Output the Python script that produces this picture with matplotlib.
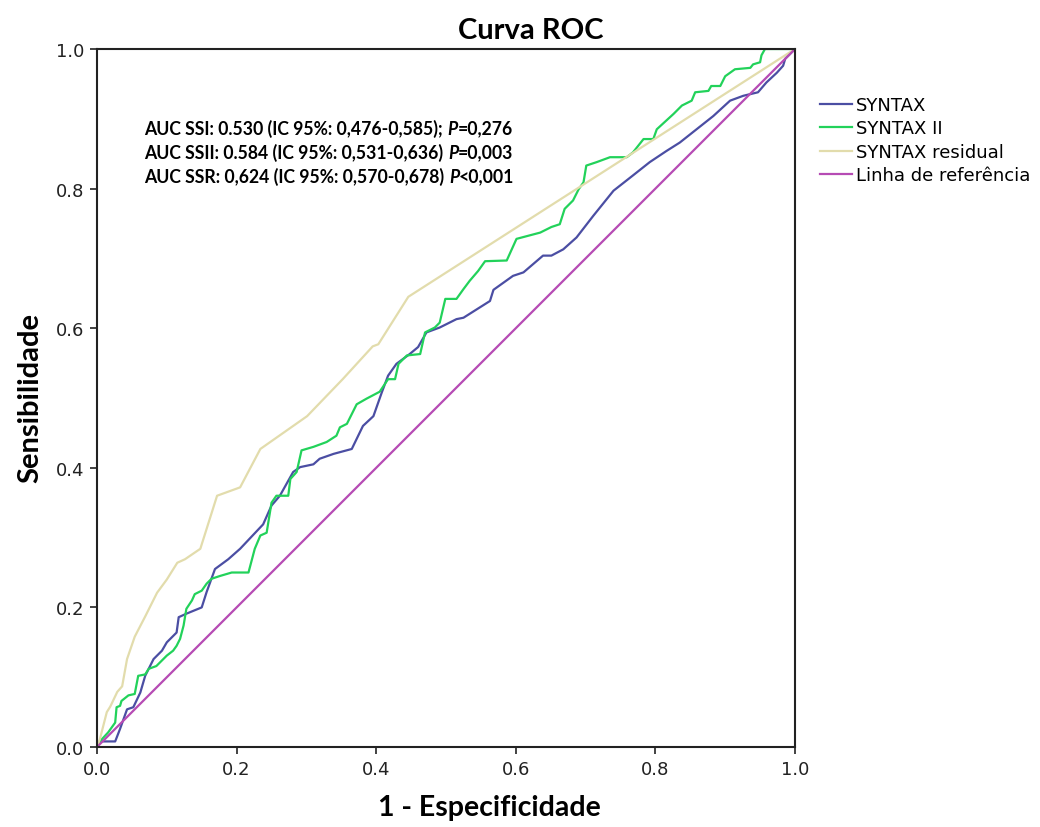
import matplotlib.pyplot as plt

# ROC points (1 - especificidade, sensibilidade)
ssi_x = [0.0, 0.004, 0.026, 0.033, 0.043, 0.052, 0.062, 0.069, 0.081, 0.093, 0.100, 0.114,
         0.117, 0.128, 0.150, 0.157, 0.169, 0.188, 0.205, 0.238, 0.250, 0.262, 0.281, 0.291,
         0.310, 0.319, 0.339, 0.365, 0.381, 0.396, 0.408, 0.417, 0.429, 0.448, 0.460, 0.472,
         0.491, 0.515, 0.525, 0.544, 0.563, 0.568, 0.596, 0.611, 0.639, 0.651, 0.668, 0.687,
         0.711, 0.740, 0.768, 0.792, 0.816, 0.835, 0.859, 0.883, 0.907, 0.926, 0.947, 0.959,
         0.974, 0.983, 0.986, 1.0]
ssi_y = [0.0, 0.008, 0.008, 0.026, 0.054, 0.057, 0.078, 0.102, 0.126, 0.138, 0.150, 0.164,
         0.186, 0.191, 0.200, 0.222, 0.255, 0.269, 0.284, 0.319, 0.346, 0.360, 0.394, 0.401,
         0.405, 0.413, 0.420, 0.427, 0.460, 0.474, 0.508, 0.532, 0.549, 0.563, 0.573, 0.594,
         0.601, 0.613, 0.615, 0.627, 0.639, 0.655, 0.675, 0.680, 0.704, 0.704, 0.713, 0.730,
         0.761, 0.797, 0.819, 0.838, 0.854, 0.866, 0.885, 0.904, 0.926, 0.933, 0.938, 0.952,
         0.966, 0.976, 0.986, 1.0]

ssii_x = [0.0, 0.004, 0.016, 0.026, 0.028, 0.033, 0.035, 0.045, 0.054, 0.059, 0.069, 0.074,
          0.085, 0.095, 0.100, 0.109, 0.114, 0.119, 0.124, 0.128, 0.136, 0.140, 0.150, 0.157,
          0.164, 0.176, 0.193, 0.217, 0.226, 0.234, 0.243, 0.250, 0.257, 0.274, 0.277, 0.286,
          0.293, 0.310, 0.329, 0.343, 0.348, 0.358, 0.372, 0.386, 0.405, 0.417, 0.427, 0.432,
          0.444, 0.463, 0.470, 0.484, 0.491, 0.499, 0.515, 0.525, 0.534, 0.546, 0.556, 0.587,
          0.601, 0.635, 0.651, 0.663, 0.670, 0.682, 0.690, 0.697, 0.701, 0.716, 0.735, 0.759,
          0.768, 0.783, 0.797, 0.802, 0.826, 0.838, 0.852, 0.857, 0.876, 0.880, 0.893, 0.900,
          0.914, 0.936, 0.940, 0.950, 0.952, 0.957, 1.0]
ssii_y = [0.0, 0.008, 0.021, 0.035, 0.057, 0.059, 0.066, 0.074, 0.076, 0.102, 0.104, 0.112,
          0.116, 0.126, 0.131, 0.138, 0.145, 0.155, 0.174, 0.198, 0.210, 0.219, 0.224, 0.234,
          0.241, 0.245, 0.250, 0.250, 0.284, 0.303, 0.307, 0.350, 0.360, 0.360, 0.384, 0.394,
          0.425, 0.430, 0.437, 0.446, 0.458, 0.463, 0.491, 0.499, 0.509, 0.527, 0.527, 0.549,
          0.561, 0.563, 0.594, 0.601, 0.608, 0.642, 0.642, 0.656, 0.668, 0.682, 0.696, 0.697,
          0.728, 0.737, 0.745, 0.749, 0.771, 0.783, 0.799, 0.809, 0.833, 0.838, 0.845, 0.845,
          0.852, 0.871, 0.871, 0.885, 0.907, 0.919, 0.926, 0.938, 0.940, 0.947, 0.947, 0.961,
          0.971, 0.973, 0.978, 0.981, 0.991, 1.0, 1.0]

ssr_x = [0.0, 0.004, 0.014, 0.019, 0.029, 0.036, 0.043, 0.054, 0.069, 0.086, 0.100, 0.115,
         0.126, 0.148, 0.172, 0.205, 0.234, 0.301, 0.352, 0.395, 0.403, 0.446, 1.0]
ssr_y = [0.0, 0.011, 0.050, 0.058, 0.079, 0.087, 0.126, 0.158, 0.187, 0.221, 0.240, 0.264,
         0.269, 0.284, 0.360, 0.372, 0.427, 0.474, 0.527, 0.574, 0.577, 0.645, 1.0]

ref_x = [0.0, 1.0]
ref_y = [0.0, 1.0]

series_labels = ['SYNTAX', 'SYNTAX II', 'SYNTAX residual', 'Linha de referência']
series_colors = ['#4B4EA3', '#22D25A', '#E2DCAC', '#B64BB4']
tick_vals = [0, 0.2, 0.4, 0.6, 0.8, 1.0]
tick_labels = ['0.0', '0.2', '0.4', '0.6', '0.8', '1.0']

auc_lines = [
    ('AUC SSI: 0.530 (IC 95%: 0,476-0,585); ', '=0,276'),
    ('AUC SSII: 0.584 (IC 95%: 0,531-0,636) ', '=0,003'),
    ('AUC SSR: 0,624 (IC 95%: 0,570-0,678) ', '<0,001'),
]

fig = plt.figure(figsize=(10.4, 8.28), dpi=100)
ax = fig.add_axes([0.0933, 0.0966, 0.6711, 0.843])

for xs, ys, lab, col in zip([ssi_x, ssii_x, ssr_x, ref_x], [ssi_y, ssii_y, ssr_y, ref_y],
                            series_labels, series_colors):
    ax.plot(xs, ys, color=col, lw=1.6, label=lab)

ax.set_xlim(0, 1)
ax.set_ylim(0, 1)
ax.set_xticks(tick_vals)
ax.set_yticks(tick_vals)
ax.set_xticklabels(tick_labels)
ax.set_yticklabels(tick_labels)
ax.tick_params(direction='out', length=5, width=1.2, labelsize=13, pad=4,
               colors='#222222')
for s in ax.spines.values():
    s.set_linewidth(1.5)
    s.set_color('#222222')

# titles (the reference centres them a bit right of the axes)
fig.text(531 / 1040, 1 - 31 / 828, 'Curva ROC', fontsize=21, fontweight='bold',
         family='Lato', ha='center', va='center')
fig.text(489 / 1040, 1 - 808 / 828, '1 - Especificidade', fontsize=20.5,
         fontweight='bold', family='Lato', ha='center', va='center')
fig.text(30 / 1040, 1 - 398 / 828, 'Sensibilidade', fontsize=21, fontweight='bold',
         family='Lato', ha='center', va='center', rotation=90)

# AUC annotations: bold text followed by italic P and value
y0 = 0.879
for i, (head, val) in enumerate(auc_lines):
    t1 = ax.text(0.068, y0 - i * 0.0345, head, transform=ax.transAxes, fontsize=12.7,
                 fontweight='bold', family='Lato', va='baseline')
    t2 = ax.annotate('P', xy=(1, 0), xycoords=t1, fontsize=12.7, fontweight='bold',
                     style='italic', family='Lato', va='bottom')
    ax.annotate(val, xy=(1, 0), xycoords=t2, fontsize=12.7, fontweight='bold',
                family='Lato', va='bottom')

leg = ax.legend(loc='upper left', bbox_to_anchor=(1.025, 0.943), frameon=False,
                prop={'family': 'DejaVu Sans', 'size': 13}, handlelength=1.8,
                handletextpad=0.2, labelspacing=0.3, borderaxespad=0)

plt.savefig('out.png', dpi=100)
